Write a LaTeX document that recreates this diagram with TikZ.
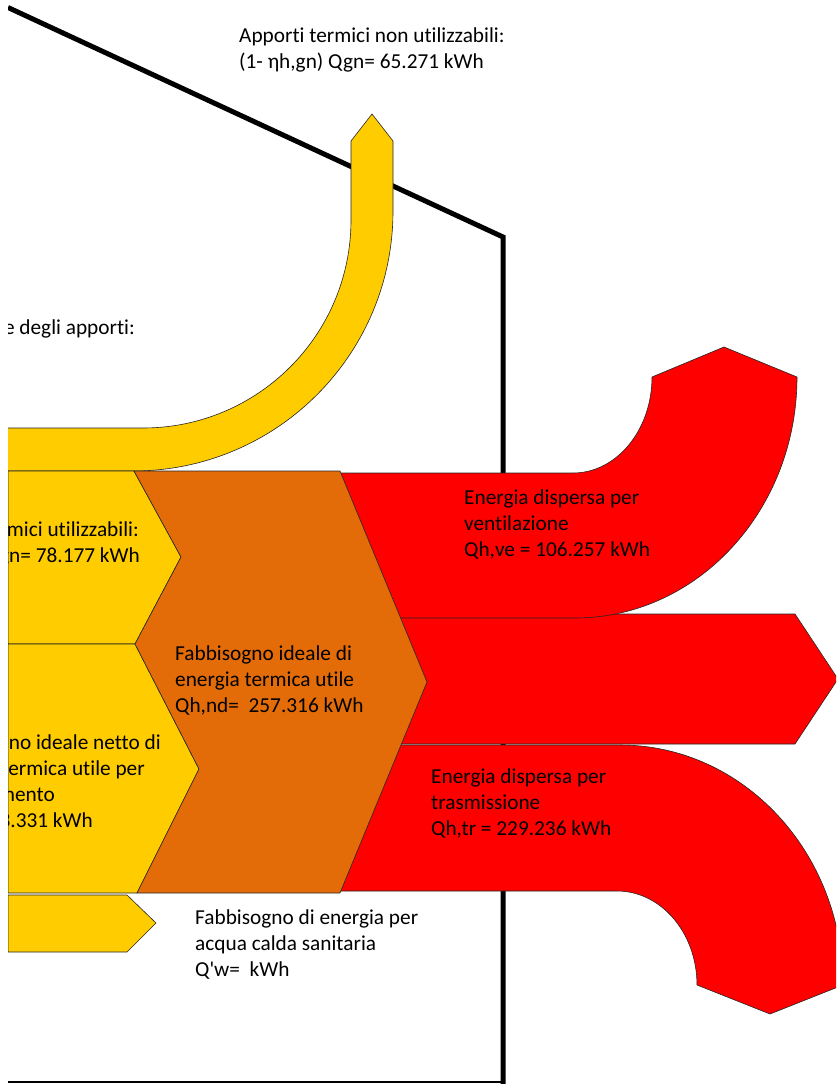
\documentclass[tikz,border=0pt]{standalone}
\usepackage{fontspec}
\newfontfamily\calfont{Carlito}[Ligatures=CommonOff]
\definecolor{ygold}{HTML}{FFCC00}
\definecolor{orng}{HTML}{E36C09}
\definecolor{rred}{HTML}{FF0000}
\begin{document}
\begin{tikzpicture}[x=1pt,y=-1pt,
  flow/.style={draw=black!85,line width=0.6pt,line join=miter},
  lbl/.style={inner sep=0pt,font=\calfont\fontsize{21.3}{26}\selectfont,text=black,align=left},
  wallline/.style={line width=5pt,line join=miter},
]
\useasboundingbox (0,0) rectangle (836,1084);
\begin{scope}
\clip (8,0) rectangle (836,1084);
% building outline
\draw[wallline] (8,7.5) -- (503,237) -- (503,1084);
\draw[line width=2pt] (8,1082) -- (503,1082);
% non-usable gains arrow
\fill[ygold] (8,428) -- (143,428) .. controls (257.9,428) and (351,334.9) .. (351,220)
  -- (351,141) -- (372,114) -- (393,141) -- (393,211)
  .. controls (393,354.6) and (276.6,471) .. (133,471) -- (8,471) -- cycle;
\draw[flow] (8,428) -- (143,428) .. controls (257.9,428) and (351,334.9) .. (351,220)
  -- (351,141) -- (372,114) -- (393,141) -- (393,211)
  .. controls (393,354.6) and (276.6,471) .. (133,471) -- (8,471);
% middle red arrow
\draw[flow,fill=rred] (380,614) -- (795,614) -- (838,679) -- (795,744) -- (380,744) -- cycle;
% ventilation
\draw[flow,fill=rred] (330,473) -- (573,473) .. controls (616.6,473) and (652,430) .. (652,377)
  -- (724,347) -- (797,377) .. controls (797,510.1) and (697.6,618) .. (575,618) -- (330,618) -- cycle;
% transmission
\draw[flow,fill=rred] (330,745) -- (620,745) .. controls (743.2,745) and (843,852.4) .. (843,985)
  -- (770,1014) -- (697,985) .. controls (697,933.1) and (661.2,891) .. (617,891) -- (330,891) -- cycle;
% usable gains chevron
\draw[flow,fill=ygold] (8,471) -- (134,471) -- (181,557) -- (135,644) -- (8,644) -- cycle;
% net need chevron
\draw[flow,fill=ygold] (8,644) -- (135,644) -- (199,769) -- (137,893) -- (8,893) -- cycle;
% DHW arrow
\draw[flow,fill=ygold] (8,895) -- (127,895) -- (156,923) -- (127,952) -- (8,952) -- cycle;
% ideal need
\draw[flow,fill=orng] (134,471) -- (340,471) -- (427,682) -- (340,893) -- (137,893)
  -- (199,769) -- (135,644) -- (181,557) -- cycle;
% labels
\node[lbl,anchor=base west] (nonutil) at (239,68) {Apporti termici non utilizzabili:\\(1- ηh,gn) Qgn= 65.271 kWh};
\node[lbl,anchor=base east] (fatt) at (135,334) {e degli apporti:};
\node[lbl,anchor=base east] (utilA) at (139,536) {mici utilizzabili:};
\node[lbl,anchor=base east] (utilB) at (140,562) {gn= 78.177 kWh};
\node[lbl,anchor=base east] (netA) at (161,749) {no ideale netto di};
\node[lbl,anchor=base east] (netB) at (145,775) {ermica utile per};
\node[lbl,anchor=base east] (netC) at (55,801) {mento};
\node[lbl,anchor=base east] (netD) at (93,827) {3.331 kWh};
\node[lbl,anchor=base west] (ideal) at (175,712) {Fabbisogno ideale di\\energia termica utile\\Qh,nd=~ 257.316 kWh};
\node[lbl,anchor=base west] (vent) at (464,556) {Energia dispersa per\\ventilazione\\Qh,ve = 106.257 kWh};
\node[lbl,anchor=base west] (trasm) at (431,835) {Energia dispersa per\\trasmissione\\Qh,tr = 229.236 kWh};
\node[lbl,anchor=base west] (acs) at (195,976) {Fabbisogno di energia per\\acqua calda sanitaria\\Q'w=~ kWh};
\end{scope}
\end{tikzpicture}
\end{document}
